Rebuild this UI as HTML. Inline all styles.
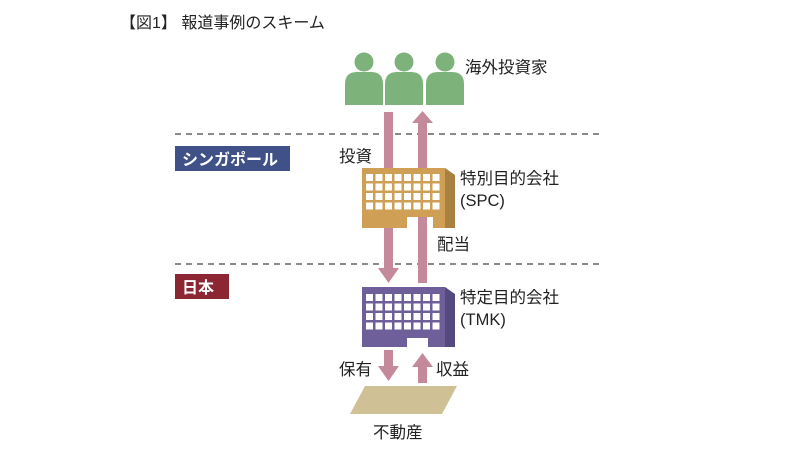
<!DOCTYPE html>
<html><head><meta charset="utf-8"><style>
html,body{margin:0;padding:0;background:#fff;}
svg{display:block;font-family:"Liberation Sans","Noto Sans CJK JP",sans-serif;}
</style></head><body>
<svg width="800" height="451" viewBox="0 0 800 451" xmlns="http://www.w3.org/2000/svg">
<text x="120" y="28" font-size="16" fill="#222">【図1】 報道事例のスキーム</text>
<line x1="175" y1="134" x2="600" y2="134" stroke="#444" stroke-width="1.3" stroke-dasharray="6,5"/>
<line x1="175" y1="264" x2="600" y2="264" stroke="#444" stroke-width="1.3" stroke-dasharray="6,5"/>
<rect x="175" y="146" width="115" height="25" fill="#3f5187"/>
<text x="182" y="165" font-size="16" font-weight="bold" fill="#fff">シンガポール</text>
<rect x="175" y="274" width="54" height="25" fill="#8c2633"/>
<text x="182" y="293" font-size="16" font-weight="bold" fill="#fff">日本</text>
<g fill="#7db37a">
<circle cx="364" cy="62" r="9.5"/><path d="M345 105 V84 Q345 72 357 72 H371 Q383 72 383 84 V105 Z"/>
<circle cx="404" cy="62" r="9.5"/><path d="M385 105 V84 Q385 72 397 72 H411 Q423 72 423 84 V105 Z"/>
<circle cx="445" cy="62" r="9.5"/><path d="M426 105 V84 Q426 72 438 72 H452 Q464 72 464 84 V105 Z"/>
</g>
<text x="465" y="73" font-size="16.5" fill="#222">海外投資家</text>
<g fill="#c4899a">
<rect x="384" y="112" width="9" height="158"/>
<polygon points="378,268 399,268 388.5,283"/>
<rect x="418" y="121" width="9" height="162"/>
<polygon points="412,123 433,123 422.5,111"/>
<rect x="384" y="350" width="9" height="18"/>
<polygon points="378,366 399,366 388.5,381"/>
<rect x="418" y="365" width="9" height="18"/>
<polygon points="412,367 433,367 422.5,353"/>
</g>
<polygon points="445,168 455,175 455,228 445,228" fill="#a88140"/>
<path d="M362 168 H445 V228 H433 V217 H407 V228 H362 Z" fill="#cf9f55"/>
<g fill="#fff" id="w1">
<rect x="366" y="174" width="7" height="7"/><rect x="375.5" y="174" width="7" height="7"/><rect x="385" y="174" width="7" height="7"/><rect x="394.5" y="174" width="7" height="7"/><rect x="404" y="174" width="7" height="7"/><rect x="413.5" y="174" width="7" height="7"/><rect x="423" y="174" width="7" height="7"/><rect x="432.5" y="174" width="7" height="7"/>
</g>
<use href="#w1" y="9.5"/><use href="#w1" y="19"/><use href="#w1" y="28.5"/>
<polygon points="445,287 455,294 455,347 445,347" fill="#554a7e"/>
<path d="M362 287 H445 V347 H428 V338 H407 V347 H362 Z" fill="#6e5f9a"/>
<use href="#w1" y="120"/><use href="#w1" y="129.5"/><use href="#w1" y="139"/><use href="#w1" y="148.5"/>
<rect x="384" y="228" width="9" height="4" fill="#c4899a"/>
<rect x="418" y="228" width="9" height="4" fill="#c4899a"/>
<polygon points="350,414 365,386 457,386 442,414" fill="#cfc095"/>
<g font-size="16.5" fill="#222">
<text x="339" y="162">投資</text>
<text x="437" y="250">配当</text>
<text x="460" y="184">特別目的会社</text>
<text x="460" y="206">(SPC)</text>
<text x="460" y="303">特定目的会社</text>
<text x="460" y="325">(TMK)</text>
<text x="339" y="375">保有</text>
<text x="436" y="375">収益</text>
<text x="373" y="438">不動産</text>
</g>
</svg>
</body></html>
